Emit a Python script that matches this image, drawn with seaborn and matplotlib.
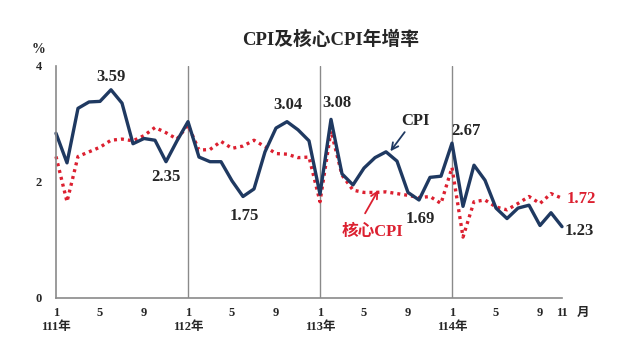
import matplotlib
matplotlib.use("Agg")
import matplotlib.pyplot as plt
import seaborn as sns
import pandas as pd
import numpy as np

# ---- data ----
months = [m for y in range(4) for m in range(1, 13)][:47]
years = ["111年", "112年", "113年", "114年"]
cpi = [2.84, 2.33, 3.27, 3.38, 3.39, 3.59, 3.36, 2.66, 2.75, 2.72, 2.35, 2.71,
       3.04, 2.43, 2.35, 2.35, 2.02, 1.75, 1.88, 2.52, 2.93, 3.04, 2.90, 2.71,
       1.79, 3.08, 2.14, 1.95, 2.24, 2.42, 2.52, 2.36, 1.82, 1.69, 2.08, 2.10,
       2.67, 1.58, 2.29, 2.03, 1.55, 1.37, 1.55, 1.60, 1.25, 1.47, 1.23]
core = [2.44, 1.66, 2.44, 2.52, 2.60, 2.72, 2.74, 2.71, 2.80, 2.94, 2.85, 2.74,
        2.98, 2.55, 2.56, 2.70, 2.58, 2.62, 2.72, 2.61, 2.49, 2.48, 2.42, 2.43,
        1.66, 2.88, 2.12, 1.86, 1.82, 1.82, 1.83, 1.80, 1.77, 1.73, 1.75, 1.63,
        2.25, 1.05, 1.66, 1.69, 1.57, 1.52, 1.63, 1.75, 1.63, 1.80, 1.72]
month_ticks = ["1", "5", "9"]
y_ticks = [0, 2, 4]

df = pd.DataFrame({"i": np.arange(len(cpi)), "CPI": cpi, "核心CPI": core})

sns.set_theme(style="white")
plt.rcParams["font.family"] = ["Liberation Serif", "Noto Sans CJK TC"]
plt.rcParams["font.weight"] = "bold"

fig = plt.figure(figsize=(6.4, 3.6), dpi=100)
ax = fig.add_axes([56/640, 1-298/360, (562-56)/640, (298-66)/360])

navy = "#1f3961"
red = "#dc2030"
grey = "#8a8a8a"

sns.lineplot(data=df, x="i", y="核心CPI", ax=ax, color=red, lw=2.4,
             dashes=False, clip_on=False)
ax.lines[-1].set_dashes((0.9, 1.2))
sns.lineplot(data=df, x="i", y="CPI", ax=ax, color=navy, lw=2.4, clip_on=False)

ax.set_xlim(0, 46)
ax.set_ylim(0, 4)
for s in ["top", "right"]:
    ax.spines[s].set_visible(False)
for s in ["left", "bottom"]:
    ax.spines[s].set_color(grey)
    ax.spines[s].set_linewidth(1.2)

# year separators
for k in range(1, 4):
    ax.axvline(12 * k, color=grey, lw=1.0, zorder=0)

ax.set_yticks(y_ticks)
ax.set_yticklabels([str(v) for v in y_ticks], fontsize=9, fontweight="bold")
ax.tick_params(axis="y", direction="out", length=3, color=grey, pad=7)
ax.set_xticks(np.arange(47))
ax.set_xticklabels([])
ax.tick_params(axis="x", direction="in", length=3, color=grey)
ax.set_xlabel("")
ax.set_ylabel("")

# month labels
tf = dict(fontsize=9, fontweight="bold", ha="center", va="center",
          transform=ax.get_xaxis_transform())
for i, m in enumerate(months):
    if str(m) in month_ticks:
        ax.text(i, -0.065, str(m), **tf)
ax.text(46, -0.065, "11", **tf)
ax.text(46 + 1.9, -0.065, "月", **tf)
for k, yl in enumerate(years):
    ax.text(12 * k, -0.125, yl, **tf)
ax.text(-1.6, 1.069, "%", fontsize=10, fontweight="bold", ha="center",
        va="center", transform=ax.get_xaxis_transform())

fig.text(331/640, 1-40/360, "CPI及核心CPI年增率", fontsize=13.5,
         fontweight="bold", ha="center", va="center")

# value annotations
lab = dict(fontsize=12, fontweight="bold", ha="center", va="center")
ax.text(5.0, 3.81, "3.59", **lab)
ax.text(10.0, 2.09, "2.35", **lab)
ax.text(17.1, 1.41, "1.75", **lab)
ax.text(21.1, 3.33, "3.04", **lab)
ax.text(25.5, 3.36, "3.08", **lab)
ax.text(33.1, 1.36, "1.69", **lab)
ax.text(37.3, 2.88, "2.67", **lab)
ax.text(47.6, 1.16, "1.23", **lab)
ax.text(47.8, 1.71, "1.72", color=red, **lab)
ax.text(32.7, 3.05, "CPI", **lab)
ax.text(28.8, 1.14, "核心CPI", color=red, **lab)

ax.annotate("", xy=(30.4, 2.53), xytext=(31.7, 2.86),
            arrowprops=dict(arrowstyle="->", color=navy, lw=1.3,
                            shrinkA=0, shrinkB=0))
ax.annotate("", xy=(29.3, 1.86), xytext=(28.1, 1.46),
            arrowprops=dict(arrowstyle="->", color=red, lw=1.3,
                            shrinkA=0, shrinkB=0))

fig.savefig("out.png", dpi=100)
